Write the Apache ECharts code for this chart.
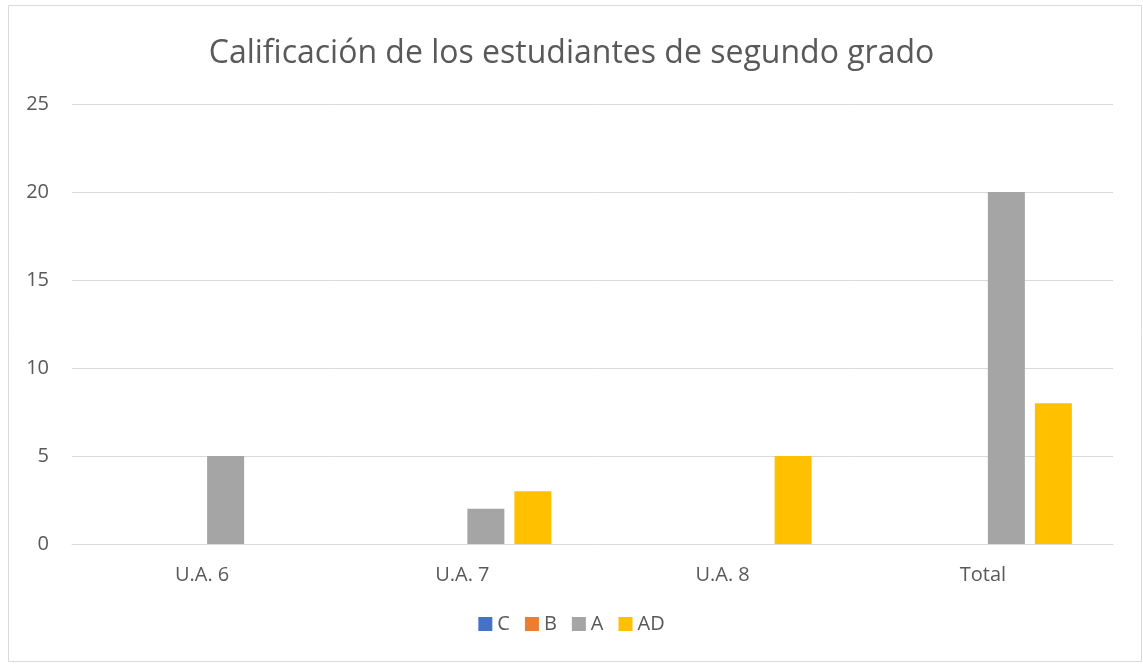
<!DOCTYPE html>
<html>
<head>
<meta charset="utf-8">
<script src="https://cdn.jsdelivr.net/npm/echarts@6/dist/echarts.min.js"></script>
<style>
html,body{margin:0;padding:0;background:#fff;}
#chart{width:1143px;height:665px;}
</style>
</head>
<body>
<div id="chart"></div>
<script>
const titleText = 'Calificación de los estudiantes de segundo grado';
const categories = ['U.A. 6', 'U.A. 7', 'U.A. 8', 'Total'];
const seriesNames = ['C', 'B', 'A', 'AD'];
const valuesC = [0, 0, 0, 0];
const valuesB = [0, 0, 0, 0];
const valuesA = [5, 2, 0, 20];
const valuesAD = [0, 3, 5, 8];
const colors = ['#4472C4', '#ED7D31', '#A5A5A5', '#FFC000'];

const allValues = [valuesC, valuesB, valuesA, valuesAD];
const chart = echarts.init(document.getElementById('chart'));
const FONT = '"Open Sans", "Noto Sans", sans-serif';
chart.setOption({
  animation: false,
  color: colors,
  graphic: [{
    type: 'rect',
    shape: {x: 8.5, y: 5.5, width: 1133, height: 656},
    style: {fill: 'none', stroke: '#d9d9d9', lineWidth: 1}
  }],
  title: {
    text: titleText,
    left: 'center',
    top: 33,
    textStyle: {fontFamily: FONT, fontSize: 32, fontWeight: 'normal', color: '#595959'}
  },
  legend: {
    data: seriesNames,
    bottom: 26,
    left: 'center',
    itemWidth: 14,
    itemHeight: 14,
    itemGap: 15,
    icon: 'rect',
    textStyle: {fontFamily: FONT, fontSize: 20, color: '#595959'}
  },
  grid: {left: 72, right: 30, top: 104, bottom: 121},
  xAxis: {
    type: 'category',
    data: categories,
    axisLine: {lineStyle: {color: '#d9d9d9', width: 1}},
    axisTick: {show: false},
    axisLabel: {fontFamily: FONT, fontSize: 20, color: '#595959', margin: 21}
  },
  yAxis: {
    type: 'value',
    min: 0,
    max: 25,
    interval: 5,
    axisLine: {show: false},
    axisTick: {show: false},
    splitLine: {lineStyle: {color: '#d9d9d9', width: 1}},
    axisLabel: {fontFamily: FONT, fontSize: 20, color: '#595959', margin: 23}
  },
  series: seriesNames.map((n, i) => ({
    name: n,
    type: 'bar',
    data: allValues[i],
    barWidth: 37,
    barGap: '27%',
    itemStyle: {color: colors[i]}
  }))
});
</script>
</body>
</html>
